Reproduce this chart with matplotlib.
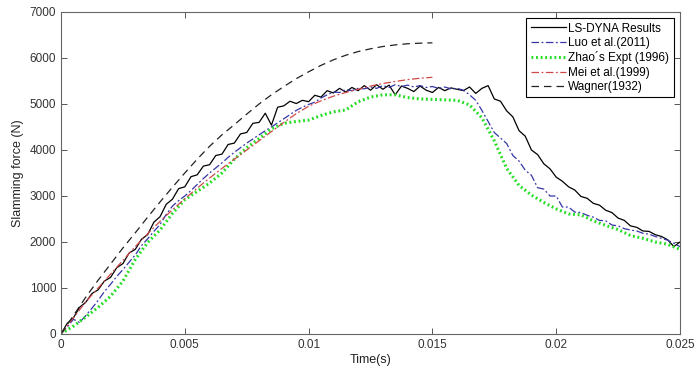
import matplotlib
matplotlib.use("Agg")
import matplotlib.pyplot as plt
import numpy as np

plt.rcParams['font.family'] = ['Liberation Sans', 'DejaVu Sans']

# --- data (time in ms, force in N) ---
t_ls = [i * 0.25 for i in range(101)]
f_ls = [0, 230, 350, 580, 690, 880, 960, 1150, 1230, 1440, 1530, 1760, 1840, 2060, 2160, 2430,
        2550, 2820, 2930, 3160, 3200, 3420, 3460, 3650, 3680, 3880, 3910, 4120, 4150, 4350, 4380,
        4580, 4600, 4800, 4540, 4930, 4960, 5060, 5010, 5080, 5050, 5190, 5150, 5290, 5240, 5340,
        5260, 5360, 5290, 5400, 5300, 5420, 5320, 5410, 5200, 5390, 5340, 5270, 5390, 5300, 5250,
        5360, 5290, 5350, 5320, 5290, 5370, 5230, 5340, 5400, 5110, 5060, 4850, 4720, 4420, 4300,
        4000, 3900, 3700, 3590, 3410, 3320, 3200, 3130, 2990, 2950, 2840, 2800, 2690, 2640, 2520,
        2470, 2350, 2320, 2240, 2230, 2160, 2120, 2050, 1900, 2000]

t_luo = [i * 0.25 for i in range(101)]
f_luo = [0, 150, 320, 250, 400, 560, 730, 920, 1080, 1250, 1400, 1560, 1720, 1920, 2070, 2230,
         2380, 2600, 2780, 2900, 3000, 3120, 3250, 3380, 3500, 3610, 3720, 3840, 3950, 4050, 4150,
         4240, 4330, 4420, 4500, 4590, 4680, 4770, 4860, 4930, 4990, 5040, 5130, 5200, 5260, 5250,
         5310, 5290, 5340, 5330, 5370, 5340, 5400, 5360, 5420, 5380, 5410, 5370, 5400, 5360, 5380,
         5340, 5370, 5330, 5340, 5300, 5200, 5080, 4860, 4620, 4380, 4260, 4140, 3880, 3760, 3560,
         3450, 3180, 3150, 3000, 3000, 2760, 2760, 2650, 2640, 2580, 2540, 2470, 2460, 2370, 2350,
         2290, 2260, 2240, 2190, 2170, 2120, 2080, 2040, 1970, 1900]

t_zhao = [0, 0.25, 0.5, 1.0, 1.5, 2.0, 2.5, 3.0, 3.5, 4.0, 4.5, 5.0, 5.5, 6.0, 6.5, 7.0, 7.5, 8.0,
          8.5, 9.0, 9.5, 10.0, 10.5, 11.0, 11.5, 12.0, 12.5, 13.0, 13.5, 14.0, 14.5, 15.0, 15.5,
          16.0, 16.5, 17.0, 17.5, 18.0, 18.5, 19.0, 19.5, 20.0, 20.5, 21.0, 21.5, 22.0, 22.5, 23.0,
          23.5, 24.0, 24.5, 25.0]
f_zhao = [0, 90, 170, 370, 580, 820, 1150, 1620, 1990, 2260, 2620, 2920, 3100, 3280, 3500, 3800,
          4050, 4250, 4460, 4580, 4620, 4650, 4750, 4830, 4870, 5050, 5150, 5200, 5200, 5140, 5110,
          5100, 5090, 5080, 4980, 4700, 4200, 3600, 3230, 3020, 2860, 2720, 2610, 2590, 2460, 2360,
          2270, 2140, 2080, 2000, 1950, 1840]

t_mei = [0, 0.5, 1.0, 1.5, 2.0, 2.5, 3.0, 3.5, 4.0, 4.5, 5.0, 5.5, 6.0, 6.5, 7.0, 7.5, 8.0, 8.5,
         9.0, 9.5, 10.0, 10.5, 11.0, 11.5, 12.0, 12.5, 13.0, 13.5, 14.0, 14.5, 15.0]
f_mei = [0, 350, 700, 1000, 1300, 1600, 1900, 2180, 2450, 2700, 2940, 3170, 3390, 3600, 3800, 4000,
         4200, 4400, 4600, 4790, 4950, 5070, 5170, 5250, 5320, 5390, 5445, 5490, 5530, 5560, 5580]

t_wag = [0, 0.5, 1.0, 1.5, 2.0, 2.5, 3.0, 3.5, 4.0, 4.5, 5.0, 5.5, 6.0, 6.5, 7.0, 7.5, 8.0, 8.5,
         9.0, 9.5, 10.0, 10.5, 11.0, 11.5, 12.0, 12.5, 13.0, 13.5, 14.0, 14.5, 15.0]
f_wag = [0, 400, 800, 1170, 1520, 1870, 2200, 2540, 2870, 3190, 3500, 3800, 4080, 4330, 4550, 4780,
         5000, 5200, 5380, 5550, 5700, 5840, 5960, 6060, 6140, 6200, 6250, 6285, 6310, 6322, 6330]

x_ticks = [0, 0.005, 0.01, 0.015, 0.02, 0.025]
x_ticklabels = ['0', '0.005', '0.01', '0.015', '0.02', '0.025']
y_ticks = [0, 1000, 2000, 3000, 4000, 5000, 6000, 7000]

fig = plt.figure(figsize=(6.96, 3.76), dpi=100)
ax = fig.add_axes([61/696, 42/376, 619/696, 322/376])

ms = lambda t: np.asarray(t) / 1000.0
ax.plot(ms(t_ls), f_ls, color='black', lw=0.9, label='LS-DYNA Results')
ax.plot(ms(t_luo), f_luo, color='#3535a8', lw=0.9, ls=(0, (6, 2, 1.5, 2)), label='Luo et al.(2011)')
ax.plot(ms(t_zhao), f_zhao, color='#22dd22', lw=2.2, ls=(0, (0.6, 0.9)), label='Zhao\u00b4s Expt (1996)')
ax.plot(ms(t_mei), f_mei, color='#d04848', lw=0.9, ls=(0, (6, 2, 1.5, 2)), label='Mei et al.(1999)')
ax.plot(ms(t_wag), f_wag, color='#222222', lw=0.9, ls=(0, (6, 4)), label='Wagner(1932)')

ax.set_xlim(0, 0.025)
ax.set_ylim(0, 7000)
ax.set_xticks(x_ticks)
ax.set_xticklabels(x_ticklabels)
ax.set_yticks(y_ticks)
ax.tick_params(direction='in', top=True, right=True, length=4, width=0.7,
               labelsize=8.5, colors='#555555', labelcolor='#333333')
for s in ax.spines.values():
    s.set_color('#666666')
    s.set_linewidth(0.8)
ax.set_xlabel('Time(s)', fontsize=9, color='#222222', labelpad=2)
ax.set_ylabel('Slamming force (N)', fontsize=9, color='#222222', labelpad=4)

leg = ax.legend(loc='upper right', fontsize=8.5, frameon=True, fancybox=False,
                edgecolor='black', framealpha=1, handlelength=3.0, handletextpad=0.2,
                borderpad=0.35, labelspacing=0.2, borderaxespad=0.55)
leg.get_frame().set_linewidth(0.8)

fig.savefig('out.png', dpi=100)
